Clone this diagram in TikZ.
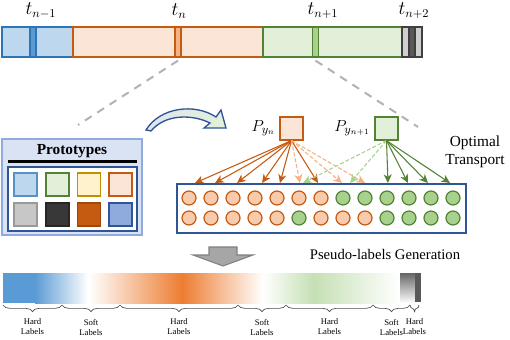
\documentclass[tikz,border=0pt]{standalone}
\usepackage{fontspec}
\setmainfont{Liberation Serif}
\usetikzlibrary{arrows.meta,decorations.pathreplacing}
\definecolor{bluefill}{HTML}{BDD7EE}
\definecolor{blueline}{HTML}{2E75B6}
\definecolor{bluemid}{HTML}{5B9BD5}
\definecolor{orfill}{HTML}{FBE5D6}
\definecolor{orline}{HTML}{C55A11}
\definecolor{ormid}{HTML}{F4B183}
\definecolor{orcirc}{HTML}{F8CBAD}
\definecolor{orstrong}{HTML}{ED7D31}
\definecolor{grfill}{HTML}{E2F0D9}
\definecolor{grline}{HTML}{548235}
\definecolor{grmid}{HTML}{A9D18E}
\definecolor{grlight}{HTML}{C5E0B4}
\definecolor{yefill}{HTML}{FFF2CC}
\definecolor{yeline}{HTML}{BF9000}
\definecolor{navy}{HTML}{2F5597}
\definecolor{protofill}{HTML}{DAE3F3}
\definecolor{protoline}{HTML}{8FAADC}
\definecolor{lgray}{HTML}{D0CECE}
\definecolor{dgray}{HTML}{595959}
\begin{document}
\begin{tikzpicture}[x=0.75pt,y=-0.75pt,
  seg/.style={line width=0.9pt},
  sq/.style={draw,minimum width=17pt,minimum height=17pt,inner sep=0,line width=1.1pt},
  dot/.style={circle,draw,minimum size=10.5pt,inner sep=0,line width=0.9pt},
  odot/.style={dot,fill=orcirc,draw=orline},
  gdot/.style={dot,fill=grmid,draw=grline},
  oarr/.style={draw=orline,line width=0.8pt,-{Stealth[length=6.5pt,width=6pt,inset=2pt]}},
  oarrd/.style={draw=ormid,line width=0.8pt,dash pattern=on 3pt off 1.5pt,-{Stealth[length=6.5pt,width=6pt,inset=2pt]}},
  garr/.style={draw=grline,line width=0.8pt,-{Stealth[length=6.5pt,width=6pt,inset=2pt]}},
  garrd/.style={draw=grmid,line width=0.8pt,dash pattern=on 3pt off 1.5pt,-{Stealth[length=6.5pt,width=6pt,inset=2pt]}},
  zoomline/.style={draw=black!30,line width=1.5pt,dash pattern=on 6pt off 5pt},
  tlab/.style={font=\fontsize{13.5}{15}\selectfont},
  blab/.style={font=\fontsize{6.5}{7.5}\selectfont,align=center},
  brc/.style={decorate,decoration={brace,mirror,amplitude=5pt},line width=0.5pt,draw=black!70},
]
\useasboundingbox (0,0) rectangle (510,339);

% ---------- top timeline bar ----------
\draw[seg,fill=bluefill,draw=blueline] (2,27) rectangle (73,57);
\node[seg,fill=bluemid,draw=blueline,minimum width=4.5pt,minimum height=22.5pt,inner sep=0] (stb) at (33,42) {};
\draw[seg,fill=orfill,draw=orline] (73,27) rectangle (263,57);
\node[seg,fill=ormid,draw=orline,minimum width=4.5pt,minimum height=22.5pt,inner sep=0] (sto) at (178,42) {};
\draw[seg,fill=grfill,draw=grline] (263,27) rectangle (402,57);
\node[seg,fill=grmid,draw=grline,minimum width=4pt,minimum height=22.5pt,inner sep=0] (stg) at (315.5,42) {};
\draw[seg,fill=lgray,draw=black!75] (402,27) rectangle (409,57);
\draw[seg,fill=dgray,draw=black!75] (409,27) rectangle (415,57);
\draw[seg,fill=lgray,draw=black!75] (415,27) rectangle (422,57);

\node[tlab] (t1) at (41,11) {$t_{n-1}$};
\node[tlab] (t2) at (179,11) {$t_{n}$};
\node[tlab] (t3) at (323,11) {$t_{n+1}$};
\node[tlab] (t4) at (414,11) {$t_{n+2}$};

\coordinate (zl) at (78,125);
\coordinate (zr) at (418,127);
\draw[zoomline] (sto.south) ++(0,3) -- (zl);
\draw[zoomline] (stg.south) ++(0,3) -- (zr);

% ---------- prototypes ----------
\draw[line width=1.5pt,draw=protoline,fill=protofill] (2,139) rectangle (142,235);
\node[font=\fontsize{11.5}{13}\selectfont\bfseries] (ptitle) at (72,151) {Prototypes};
\draw[line width=1.6pt] (8,161.5) -- (137,161.5);
\draw[line width=1.6pt,draw=navy,fill=white] (8,167) rectangle (137,231);
\node[sq,fill=bluefill,draw=blueline!80] (p1) at (25.5,184.5) {};
\node[sq,fill=grfill,draw=grline] (p2) at (57.5,184.5) {};
\node[sq,fill=yefill,draw=yeline] (p3) at (89,184.5) {};
\node[sq,fill=orfill,draw=orline] (p4) at (120.5,184.5) {};
\node[sq,fill=black!22,draw=black!40] (p5) at (25.5,214.5) {};
\node[sq,fill=black!78,draw=black!85] (p6) at (57.5,214.5) {};
\node[sq,fill=orline,draw=orline!80!black] (p7) at (89,214.5) {};
\node[sq,fill=protoline,draw=navy] (p8) at (120.5,214.5) {};

% ---------- curved arrow ----------
\path[draw=navy,line width=1pt,left color=navy!15,right color=grfill]
  (146,130) .. controls (160,107) and (195,103) .. (216,117) -- (221,110) -- (226,128)
  -- (204,128) -- (210,123) .. controls (192,114) and (165,114) .. (151,131) -- cycle;

% ---------- P boxes ----------
\node[sq,fill=orfill,draw=orline] (pn) at (291.5,128.5) {};
\node[sq,fill=grfill,draw=grline] (pn1) at (386.5,128.5) {};
\node[anchor=east,font=\fontsize{12.5}{14}\selectfont,inner sep=1pt] (lpn) at (277,128) {$P_{y_n}$};
\node[anchor=east,font=\fontsize{12.5}{14}\selectfont,inner sep=1pt] (lpn1) at (372,128) {$P_{y_{n+1}}$};
\node[font=\fontsize{11.5}{13.5}\selectfont,align=center] (ot) at (475,152) {Optimal\\Transport};

% ---------- samples ----------
\node[draw=navy,line width=1.6pt,fill=white,minimum width=216.75pt,minimum height=36.75pt,inner sep=0] (box) at (321.5,208.5) {};
\foreach \i in {0,...,12} {
  \pgfmathsetmacro{\xx}{189+22*\i}
  \ifnum\i<7 \node[odot] (r1c\i) at (\xx,198) {}; \else \node[gdot] (r1c\i) at (\xx,198) {}; \fi
}
\foreach \i/\s in {0/odot,1/odot,2/odot,3/odot,4/odot,5/gdot,6/odot,7/odot,8/odot,9/gdot,10/gdot,11/gdot,12/gdot} {
  \pgfmathsetmacro{\xx}{189+22*\i}
  \node[\s] (r2c\i) at (\xx,218) {};
}

% arrow targets on box top
\foreach \x in {195,215,237,262,280,318} {\coordinate (ao\x) at (\x,183);
  \draw[oarr] (pn.south) -- (ao\x);}
\foreach \x in {300,342,365} {\coordinate (ad\x) at (\x,183);
  \draw[oarrd] (pn.south) -- (ad\x);}
\foreach \x in {303,350} {\coordinate (gd\x) at (\x,183);
  \draw[garrd] (pn1.south) -- (gd\x);}
\foreach \x in {388,408,428,450} {\coordinate (gs\x) at (\x,183);
  \draw[garr] (pn1.south) -- (gs\x);}

% ---------- pseudo labels ----------
\path[draw=black!50,fill=black!35,line width=0.8pt]
  (209,247) -- (237,247) -- (237,255) -- (253,255) -- (223,266) -- (193,255) -- (209,255) -- cycle;
\node[font=\fontsize{11}{13}\selectfont] (pg) at (385,254) {Pseudo-labels Generation};

% gradient bar
\fill[bluemid] (3,273) rectangle (35,303);
\shade[left color=bluemid,right color=white] (35,273) rectangle (88,303);
\shade[left color=white,right color=orstrong] (89,273) rectangle (182,303);
\shade[left color=orstrong,right color=white] (182,273) rectangle (263,303);
\shade[left color=white,right color=grlight] (263,273) rectangle (313,303);
\shade[left color=grlight,right color=white] (313,273) rectangle (400,303);
\shade[top color=black!60,bottom color=white] (400,273) rectangle (416,303);
\fill[dgray] (415,273) rectangle (421,302);

% braces
\foreach \a/\b/\t [count=\k] in {3/62/Hard,62/120/Soft,120/238/Hard,238/286/Soft,286/373/Hard,373/410/Soft,410/419/Hard} {
  \coordinate (ba\k) at (\a,305);
  \coordinate (bb\k) at (\b,305);
  \draw[brc] (ba\k) -- (bb\k);
  \node[blab] (bl\k) at ({(\a+\b)/2},327) {\t\\Labels};
}
\end{tikzpicture}
\end{document}
